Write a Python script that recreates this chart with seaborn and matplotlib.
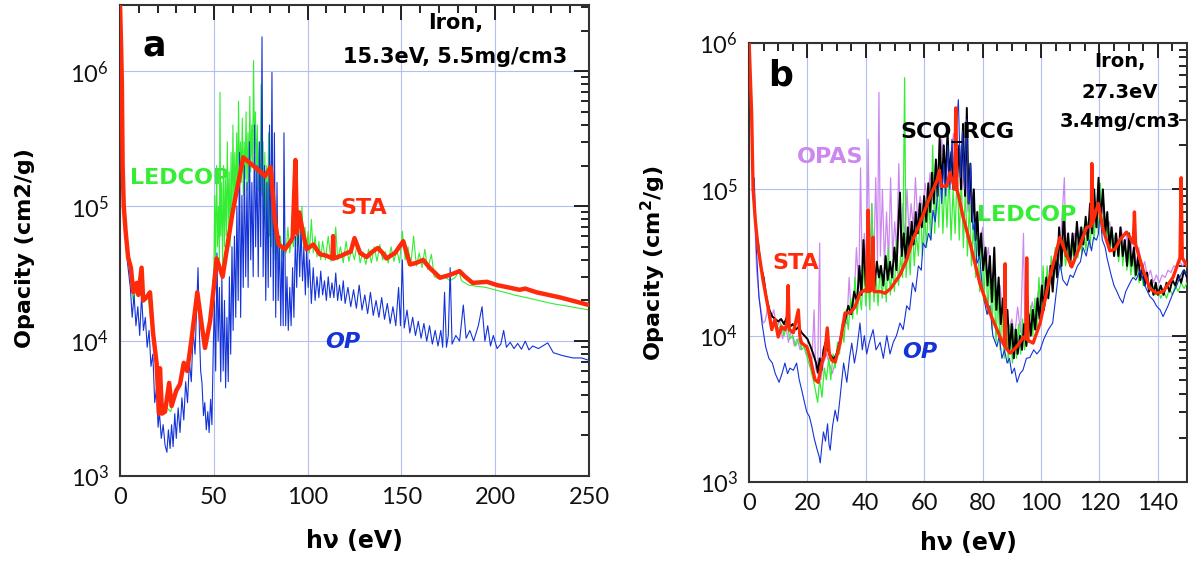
import numpy as np
import pandas as pd
import matplotlib
matplotlib.use("Agg")
import matplotlib.pyplot as plt
import seaborn as sns
from matplotlib.ticker import MultipleLocator, LogLocator, NullFormatter, LogFormatterMathtext, FixedLocator

# ---------------- Panel a : Iron 15.3 eV, 5.5 mg/cm3 ----------------
sta_a = [(0.05,3.0e6),(0.6,1.5e6),(1.0,8e5),(1.4,2.0e5),(2.0,1.0e5),(3.0,6.5e4),(4.3,4.2e4),(5.8,3.5e4),
         (7.1,2.3e4),(8.9,2.7e4),(9.8,2.2e4),(11.5,3.5e4),(12.4,2.0e4),(14.0,2.1e4),(16.0,2.3e4),(17.6,1.15e4),
         (19.5,6.9e3),(20.8,2.9e3),(21.3,6.3e3),(22.4,2.9e3),(24.0,3.0e3),(26.2,4.9e3),(27.5,3.3e3),(30.0,4.3e3),
         (32.0,4.8e3),(34.0,6.9e3),(35.8,6.0e3),(38.0,1.0e4),(41.2,2.3e4),(43.0,1.5e4),(45.3,8.9e3),(48.0,1.4e4),
         (50.0,2.5e4),(51.5,4.1e4),(54.7,3.0e4),(60.0,9.0e4),(65.7,2.3e5),(69.0,2.1e5),(72.9,1.9e5),(77.3,1.67e5),
         (80.3,1.95e5),(82.5,8.0e4),(84.5,5.2e4),(88.0,4.8e4),(90.6,5.4e4),(92.0,5.8e4),(93.5,2.2e5),(94.3,6.3e4),
         (95.5,9.0e4),(97.6,6.3e4),(99.5,4.8e4),(101.3,5.0e4),(103.0,5.2e4),(106.6,4.4e4),(110.0,4.3e4),
         (113.3,4.1e4),(113.6,6.0e4),(114.0,4.1e4),(118.0,4.3e4),(121.0,4.5e4),(123.0,4.6e4),(125.0,5.8e4),
         (128.0,4.5e4),(131.5,4.2e4),(134.5,4.6e4),(137.5,4.9e4),(140.0,4.5e4),(142.0,4.1e4),(146.6,4.5e4),
         (151.0,5.5e4),(154.6,3.7e4),(158.0,3.8e4),(161.6,4.0e4),(165.0,3.5e4),(170.6,2.95e4),(176.0,3.1e4),
         (181.0,3.3e4),(184.0,3.0e4),(188.0,2.7e4),(195.6,2.75e4),(201.0,2.6e4),(207.0,2.5e4),(213.0,2.4e4),
         (216.0,2.45e4),(222.0,2.3e4),(235.0,2.1e4),(250.0,1.85e4)]

ledcop_a = [(3,6e4),(5,3.5e4),(7,2.0e4),(9,2.5e4),(11,2.2e4),(13,2.0e4),(15,2.1e4),(17,1.2e4),(19,7e3),
            (21,3.5e3),(23,2.9e3),(25,3.2e3),(27,3.0e3),(29,3.8e3),(31,4.5e3),(33,5.5e3),(35,6.5e3),(37,8.5e3),
            (39,1.4e4),(41,2.3e4),(42.5,1.8e4),(44,1.1e4),(45.5,9.0e3),(47,1.1e4),(48.5,1.6e4),(49.5,2.8e4),
            (50,3e4),(50.5,1.2e5),(51,4e4),(51.5,2.0e5),(52,5e4),(52.5,1.0e5),(53,4e4),(53.3,7e5),(53.7,6e4),
            (54.2,1.5e5),(54.7,3.5e4),(55.2,2.0e5),(55.7,5e4),(56.2,1.6e5),(56.7,6e4),(57.2,3.0e5),(57.7,7e4),
            (58.2,1.8e5),(58.7,5e4),(59.2,2.5e5),(59.7,8e4),(60.2,4e5),(60.7,9e4),(61.2,2.5e5),(61.7,1.0e5),
            (62.2,3.5e5),(62.7,1.2e5),(63.2,6e5),(63.7,1.4e5),(64.2,3e5),(64.7,1.5e5),(65.2,4.5e5),(65.7,1.2e5),
            (66.2,3e5),(66.7,1.6e5),(67.2,5e5),(67.7,1.3e5),(68.2,3.5e5),(68.7,1.5e5),(69.2,6.5e5),(69.7,1.8e5),
            (70.2,4e5),(70.7,2e5),(71.2,1.2e6),(71.7,2.5e5),(72.2,5e5),(72.7,1.5e5),(73.2,4e5),(73.7,1.3e5),
            (74.2,3e5),(74.7,1.0e5),(75.2,8e5),(75.7,1.2e5),(76.2,3e5),(76.7,8e4),(77.2,2.5e5),(77.7,7e4),
            (78.2,2e5),(78.7,6e4),(79.2,3.5e5),(79.7,6e4),(80.2,1.5e5),(80.7,5e4),(81.2,1.8e5),(81.7,4.5e4),
            (82.2,1.2e5),(82.7,4e4),(83.5,8e4),(84.5,4e4),(85.5,6e4),(86.5,4.2e4),(87.5,5.5e4),(88.5,4.5e4),
            (89.5,7e4),(90.5,4.5e4),(91.5,6e4),(92.5,5e4),(93.5,8e4),(94.5,5e4),(95.5,9e4),(96.2,5.5e4),
            (97,1.0e5),(97.8,5e4),(98.6,7e4),(99.4,4.5e4),(100.2,6.5e4),(101,4.5e4),(102,8e4),(103,4.5e4),
            (104,6e4),(105,4.2e4),(106,5.5e4),(107,4e4),(108,5.5e4),(109.5,4e4),(111,6e4),(112.5,3.9e4),
            (114,5e4),(115,7e4),(116,4e4),(117.5,5e4),(119,3.8e4),(120.5,5.5e4),(122,3.9e4),(123.5,4.8e4),
            (125,4e4),(126.5,5.5e4),(128,3.8e4),(129.5,4.6e4),(131,3.7e4),(132.5,4.8e4),(134,3.8e4),(135.5,5e4),
            (137,3.9e4),(138.5,5.2e4),(140,4e4),(141.5,4.6e4),(143,3.8e4),(144.5,5e4),(146,3.9e4),(147.5,4.8e4),
            (149,3.8e4),(150.5,6.5e4),(152,4e4),(153.5,5e4),(155,3.7e4),(156.5,6e4),(158,3.6e4),(159.5,4.5e4),
            (161,3.5e4),(162.5,4.8e4),(164,3.4e4),(166,4.4e4),(167.5,3e4),(170,2.9e4),(173,3.0e4),(176,2.8e4),
            (179,3.0e4),(180.5,3.4e4),(182,2.8e4),(186,2.6e4),(190,2.55e4),(195,2.5e4),(200,2.4e4),(205,2.3e4),
            (210,2.2e4),(220,2.05e4),(230,1.9e4),(240,1.8e4),(250,1.7e4)]

op_a = [(2,9e4),(4,3.8e4),(5.5,2.5e4),(6.5,1.5e4),(7.5,2.2e4),(8.5,1.3e4),(9.5,1.8e4),(10.5,1.1e4),
        (11.5,2.2e4),(12.5,1.2e4),(13.5,1.5e4),(14.5,9e3),(15.5,1.2e4),(16.5,6.5e3),(17.5,8e3),(18.5,3.5e3),
        (19.5,4.5e3),(20.3,2.3e3),(21,3e3),(22,1.9e3),(23,2.4e3),(24,1.7e3),(25,1.5e3),(25.8,2.2e3),
        (26.7,1.6e3),(27.5,2.4e3),(28.3,1.65e3),(29.2,2.9e3),(30,1.9e3),(31,3.2e3),(32,2.1e3),(33,3.8e3),
        (34,2.6e3),(35,5e3),(36,3.5e3),(37,7e3),(38,5e3),(39,1.2e4),(40,8e3),(41,2.0e4),(41.6,3.5e4),
        (42.3,1.2e4),(43,6e3),(43.7,4.9e3),(44.5,2.8e3),(45.2,3.5e3),(46,2.2e3),(46.8,3.0e3),(47.5,2.1e3),
        (48.3,3.7e3),(49,2.4e3),(49.7,8.6e3),(50.3,2.0e4),(51,6e3),(51.7,4.5e4),(52.3,1.0e4),(53,2.5e4),
        (53.7,5e3),(54.3,3e4),(55,6e3),(55.7,2.0e4),(56.3,4.5e3),(57,1.5e4),(57.7,5e3),(58.3,3e4),(59,8e3),
        (59.7,5e4),(60.3,1.2e4),(61,6e4),(61.7,1.5e4),(62.3,1.0e5),(63,2e4),(63.7,2.5e5),(64.3,1.5e4),
        (65,1.2e5),(65.7,2.5e4),(66.3,2e5),(67,3e4),(67.7,1.5e5),(68.3,2.5e4),(69,3e5),(69.7,4e4),(70.3,1.5e5),
        (71,3e4),(71.7,4e5),(72.3,5e4),(73,2e5),(73.7,3e4),(74.3,3e5),(75,5e4),(75.7,1.8e6),(76.3,3e4),
        (77,2e5),(77.7,2e4),(78.3,1.5e5),(79,2.5e4),(79.7,4e5),(80.3,3e4),(81,9.8e5),(81.7,2e4),(82.3,3.5e5),
        (83,1.5e4),(83.7,1.5e5),(84.3,2e4),(85,6e4),(85.7,1.3e4),(86.3,5e4),(87,1.3e4),(87.4,3.5e5),
        (88.3,1.3e4),(89,3e4),(89.7,1.2e4),(90.5,2.5e4),(91.2,1.3e4),(92,3.5e4),(92.7,1.5e4),(93.5,6e4),
        (94.2,2.5e4),(95,8e4),(95.8,3e4),(96.5,7e4),(97.3,2.8e4),(98,5e4),(98.8,2.2e4),(99.5,5e4),
        (100.3,2.5e4),(101,4e4),(102,1.9e4),(103,3.5e4),(104,2e4),(105,3e4),(106,2.1e4),(107,3.3e4),
        (108,2.2e4),(109,2.8e4),(110,2e4),(111,3e4),(112,2.1e4),(113,2.7e4),(114,2.1e4),(115,3.2e4),
        (116,2.0e4),(117,2.6e4),(118,2.0e4),(119,2.8e4),(120,1.9e4),(121.5,2.5e4),(123,1.8e4),(124.5,2.4e4),
        (126,1.75e4),(127.5,2.6e4),(129,1.7e4),(130.5,2.2e4),(132,1.6e4),(133.5,2.3e4),(135,1.55e4),
        (136.5,2.0e4),(138,1.5e4),(139.5,2.1e4),(141,1.45e4),(142.5,1.9e4),(144,1.35e4),(145.5,1.8e4),
        (147,1.3e4),(148.5,2.5e4),(149.5,1.3e4),(150.5,4e4),(151.5,1.25e4),(153,1.7e4),(154.5,1.15e4),
        (156,1.5e4),(157.5,1.1e4),(159,1.4e4),(160.5,1.05e4),(162,1.35e4),(163.5,1.0e4),(165,1.3e4),
        (166.5,9.5e3),(168,1.2e4),(169.5,9.2e3),(171,1.2e4),(172,9e3),(173,2.3e4),(174,9e3),(175,1.1e4),
        (176,3.5e4),(177,9.5e3),(179,1.1e4),(181,1.0e4),(183,1.85e4),(184.5,1.05e4),(186.5,1.2e4),
        (188.5,1.0e4),(191,1.3e4),(193,1.8e4),(194.5,1.0e4),(196,1.3e4),(197.5,9.2e3),(199,1.1e4),
        (201,8.8e3),(203,9.5e3),(204.5,1.2e4),(206,9.0e3),(208,9.8e3),(210,8.8e3),(212,9.6e3),(214,8.7e3),
        (216,1.0e4),(218,8.6e3),(220,9.2e3),(223,8.8e3),(228,9.7e3),(231,8.2e3),(236,7.8e3),(241.5,7.5e3),
        (246,7.5e3),(250,7.2e3)]

# ---------------- Panel b : Iron 27.3 eV, 3.4 mg/cm3 ----------------
sta_b = [(0.05,1e6),(0.9,3.3e5),(1.4,1.0e5),(2.2,6e4),(3.1,4.0e4),(4.8,2.4e4),(6.5,1.57e4),(7.8,1.1e4),
         (8.9,1.29e4),(10,9.8e3),(11.2,1.15e4),(12.3,1.1e4),(13.0,1.2e4),(13.4,2.2e4),(13.8,1.1e4),
         (15.2,1.05e4),(16.9,1.5e4),(17.4,1.0e4),(18,8.9e3),(19.8,8.4e3),(20.9,7.1e3),(22.6,5.0e3),
         (23.7,4.8e3),(24.9,6.5e3),(26.0,7.5e3),(26.8,1.13e4),(27.5,7.5e3),(28.3,6.8e3),(29.5,6.6e3),
         (31.2,8.9e3),(32.9,1.43e4),(34.6,1.43e4),(36.3,1.57e4),(38,1.95e4),(39.7,2.05e4),(40.3,2.0e4),
         (40.8,7.2e4),(41.3,2.0e4),(42.2,2.1e4),(42.5,4.7e4),(42.8,2.0e4),(44.9,2.0e4),(46.6,1.95e4),
         (48.5,2.1e4),(51.7,2.6e4),(54,3.3e4),(56,4.5e4),(58,5.5e4),(60,7e4),(62,8.9e4),(64.4,1.15e5),
         (65.2,1.35e5),(65.8,1.05e5),(67.7,1.05e5),(68.8,1.3e5),(69.9,1.1e5),(70.5,1.0e5),(70.8,3.6e5),
         (71.2,1.0e5),(71.8,9e4),(73.3,6.5e4),(75.7,4.3e4),(79,2.3e4),(82.5,1.43e4),(86,9.8e3),(87.5,8.5e3),
         (87.7,3.1e4),(87.9,8.3e3),(89.4,7.6e3),(91.7,8.4e3),(94,9.8e3),(94.8,9.5e3),(95.1,3.4e4),(95.5,9.3e3),
         (97.3,8.9e3),(99.7,1.22e4),(103,2.5e4),(106.5,4.7e4),(108.2,3.8e4),(110.5,2.95e4),(112.7,3.8e4),
         (115.6,5.5e4),(117.2,5.6e4),(117.4,1.5e5),(117.7,5.9e4),(119.6,8e4),(121.3,5.3e4),(123.6,3.8e4),
         (125.3,3.9e4),(127.3,4.6e4),(129.3,5.1e4),(131.6,4.3e4),(132.0,7e4),(132.4,4.2e4),(135,2.8e4),
         (137.3,2.1e4),(139.6,1.95e4),(141.8,2.0e4),(145.2,2.5e4),(147.6,3.4e4),(148.0,1.2e5),(148.4,3.4e4),
         (150,3.0e4)]

scorcg_b = [(3,4.5e4),(4,3e4),(5,2.5e4),(6,1.8e4),(7,1.5e4),(8,1.35e4),(9,1.3e4),(10,1.25e4),(11,1.3e4),
            (12,1.2e4),(13,1.35e4),(14,1.15e4),(15,1.2e4),(16,1.1e4),(17,1.15e4),(18,1.05e4),(19,1.0e4),
            (20,9.5e3),(21,8.5e3),(22,7.5e3),(23,6.5e3),(23.6,5.6e3),(24.2,7e3),(24.8,5.8e3),(25.5,8e3),
            (26.2,9e3),(27,8e3),(28,7.3e3),(29,6.9e3),(30,7.5e3),(31,9e3),(32,1.1e4),(33,1.3e4),(34,1.6e4),
            (35,1.4e4),(36,2e4),(37,1.7e4),(37.8,3.0e4),(38.5,1.9e4),(39.2,4.5e4),(40,2.2e4),(40.8,3.5e4),
            (41.5,2.0e4),(42.2,4.0e4),(43,2.2e4),(43.8,3.2e4),(44.5,2.5e4),(45.2,3.0e4),(46,2.2e4),(46.8,3.5e4),
            (47.5,2.4e4),(48.3,3.2e4),(49,2.5e4),(49.8,4.0e4),(50.5,2.8e4),(51.2,6e4),(51.7,9.5e4),(52.3,3.5e4),
            (53,5e4),(53.7,3.2e4),(54.4,5.5e4),(55,3.8e4),(55.7,6e4),(56.4,4.2e4),(57.1,7e4),(57.8,5e4),
            (58.5,8e4),(59.2,5.5e4),(60,9e4),(60.7,6e4),(61.4,1.1e5),(62,7e4),(62.7,1.3e5),(63.3,8e4),(64,1.6e5),
            (64.6,9e4),(65.3,2.3e5),(66,1.0e5),(66.7,2.0e5),(67.3,1.1e5),(68,2.5e5),(68.6,1.2e5),(69.3,1.8e5),
            (70,1.0e5),(70.7,2.2e5),(71.3,1.2e5),(72,2.0e5),(72.6,1.0e5),(73.3,2.8e5),(74,9e4),(74.6,3.6e5),
            (75.2,8e4),(75.8,1.5e5),(76.4,6e4),(77,1.0e5),(77.6,4.5e4),(78.2,7e4),(78.8,3.5e4),(79.5,5e4),
            (80.2,2.8e4),(81,4e4),(81.7,2.2e4),(82.5,3.5e4),(83.2,1.7e4),(84,4e4),(84.7,1.5e4),(85.5,2.5e4),
            (86.2,1.2e4),(87,1.8e4),(87.7,1.0e4),(88.5,1.5e4),(89.2,8e3),(90,1.2e4),(90.7,7e3),(91.4,1.1e4),
            (92,7.5e3),(92.8,1.0e4),(93.5,8e3),(94.2,1.2e4),(95,8.5e3),(95.8,1.4e4),(96.5,1.0e4),(97.2,1.5e4),
            (98,1.1e4),(98.8,1.8e4),(99.5,1.3e4),(100.3,2.2e4),(101,1.5e4),(101.8,2.5e4),(102.5,1.8e4),
            (103.3,3.0e4),(104,2.0e4),(104.8,3.5e4),(105.5,2.5e4),(106.2,5.5e4),(107,3e4),(107.8,7e4),
            (108.5,3.5e4),(109.3,5e4),(110,3e4),(110.8,5e4),(111.5,3.5e4),(112.3,6e4),(113,4e4),(113.8,5.5e4),
            (114.5,4.2e4),(115.3,6.5e4),(116,4.5e4),(116.8,8e4),(117.5,5e4),(118.2,1.0e5),(119,5.5e4),
            (119.7,1.2e5),(120.4,6e4),(121.2,1.0e5),(122,5e4),(122.7,7e4),(123.4,4e4),(124.2,5.5e4),(125,3.5e4),
            (125.7,5e4),(126.5,3.5e4),(127.2,5.5e4),(128,3.5e4),(128.7,4.5e4),(129.5,3.0e4),(130.2,5e4),
            (131,3e4),(131.8,4e4),(132.5,2.6e4),(133.3,3.5e4),(134,2.4e4),(134.8,3e4),(135.5,2.2e4),
            (136.3,2.7e4),(137,2.0e4),(137.8,2.4e4),(138.5,1.9e4),(139.3,2.3e4),(140,1.9e4),(141,2.2e4),
            (142,1.9e4),(143,2.3e4),(144,2.0e4),(145,2.4e4),(146,2.2e4),(147,2.6e4),(148,2.3e4),(149,2.8e4),
            (150,2.5e4)]

opas_b = [(2,6e4),(2.6,2.8e4),(3.5,1.8e4),(4.8,1.22e4),(5.5,1.25e4),(6.5,1.6e4),(7.5,1.3e4),(8.5,1.5e4),
          (9.5,1.1e4),(10.5,1.3e4),(11.5,9.5e3),(12.5,1.2e4),(13.5,9e3),(14.5,1.1e4),(15.5,8.5e3),(16.5,9.5e3),
          (17.5,8e3),(18.5,9e3),(19.5,7.5e3),(20.5,7e3),(21.5,6.5e3),(22.3,1.5e4),(22.8,6e3),(23.5,5.5e3),
          (24.2,4.3e4),(24.6,5e3),(25.5,6.5e3),(26.5,7.5e3),(27.5,6.5e3),(28.5,5.5e3),(29.5,6.5e3),(30.5,8e3),
          (31.5,1.0e4),(32.5,1.3e4),(33.5,1.2e4),(34.3,2.5e4),(35,1.4e4),(36,1.8e4),(36.8,4e4),(37.6,2e4),
          (38.2,1.4e5),(38.8,2.5e4),(39.5,5e4),(40.2,2.8e4),(40.8,2.2e5),(41.4,3e4),(42,8e4),(42.7,3e4),
          (43.4,1.2e5),(44,3.2e4),(44.5,4.6e5),(45,3.5e4),(45.7,1e5),(46.4,3e4),(47.1,7e4),(47.8,3.2e4),
          (48.5,1.2e5),(49.2,3.5e4),(49.9,6e4),(50.6,3.8e4),(51.3,1.5e5),(52,4e4),(52.7,8e4),(53.4,4.5e4),
          (54.1,1e5),(54.8,5e4),(55.5,8e4),(56.3,5.5e4),(57,1.2e5),(57.8,6e4),(58.6,9e4),(59.5,7e4),
          (60.3,1.1e5),(61.2,8e4),(62,1.3e5),(63,9e4),(64,1.6e5),(65,1e5),(66,2.2e5),(67,1.2e5),(68,2.0e5),
          (69,1.3e5),(70,2.4e5),(71,1.2e5),(72,2.0e5),(73,1.0e5),(74,1.6e5),(75,7e4),(76,1.0e5),(77,5e4),
          (78,7e4),(79,4e4),(80,5.5e4),(81,3e4),(82,4e4),(83,2.2e4),(84,3e4),(85,1.6e4),(86,2.2e4),(87,1.3e4),
          (88,1.6e4),(89,1.1e4),(90,1.3e4),(91,1.0e4),(92,1.57e4),(93,1.05e4),(94,5e4),(94.5,1.1e4),(96,1.3e4),
          (97,1.7e4),(98,1.3e4),(99,2e4),(100,1.5e4),(101,2.4e4),(102,1.8e4),(103,3e4),(104,2.2e4),(105,4e4),
          (106,3e4),(107,5.5e4),(108,1.2e5),(108.6,3.5e4),(109.5,4.5e4),(110.5,3.5e4),(111.5,5e4),(112.5,4e4),
          (113.5,5.5e4),(114.5,4.5e4),(115.5,6e4),(116.5,5e4),(117.5,8e4),(118.5,5.5e4),(119.5,1.1e5),
          (120.5,6e4),(121.5,8e4),(122.5,5e4),(123.5,6e4),(124.5,4e4),(125.5,5e4),(126.5,4e4),(127.5,5.5e4),
          (128.5,3.8e4),(129.5,5e4),(130.5,3.5e4),(131.5,5e4),(132.5,3e4),(133.5,4e4),(134.5,2.8e4),
          (135.5,3.2e4),(136.5,2.5e4),(137.5,2.8e4),(138.5,2.3e4),(139.5,2.6e4),(140.5,2.3e4),(141.5,2.6e4),
          (142.5,2.5e4),(143.5,2.8e4),(144.5,2.7e4),(145.5,3e4),(146.5,2.9e4),(147.5,3.2e4),(148.5,3.0e4),
          (150,3.3e4)]

ledcop_b = [(9,1.3e4),(10,1.1e4),(11,1.2e4),(12,1.0e4),(13,1.2e4),(14,9.5e3),(15,1.0e4),(16,8.5e3),(17,9.5e3),
            (18,8e3),(19,8.5e3),(20,7e3),(21,6e3),(22,5e3),(22.8,4.2e3),(23.5,3.5e3),(24.2,5e3),(25,3.8e3),
            (25.8,6e3),(26.5,5e3),(27.3,7e3),(28,5e3),(28.8,7.5e3),(29.5,6e3),(30.3,9e3),(31,7.5e3),(31.8,1.2e4),
            (32.5,9e3),(33.3,1.5e4),(34,1.1e4),(34.8,1.8e4),(35.5,1.3e4),(36.3,2.5e4),(37,1.4e4),(37.8,2e4),
            (38.5,1.5e4),(39.3,3e4),(40,1.6e4),(40.7,2.5e4),(41.4,1.5e4),(42.1,8e4),(42.8,1.7e4),(43.5,2.5e4),
            (44.2,1.6e4),(44.9,3e4),(45.6,1.8e4),(46.3,2.8e4),(47,1.7e4),(47.7,4e4),(48.4,1.9e4),(49.1,3e4),
            (49.8,2e4),(50.5,4.5e4),(51.2,2.2e4),(51.9,3.5e4),(52.6,2.5e4),(53.3,5.8e5),(53.8,2.5e4),(54.5,4.5e4),
            (55.2,2.6e4),(55.9,6e4),(56.6,3e4),(57.3,5e4),(58,3.5e4),(58.7,8e4),(59.4,3.5e4),(60.1,7e4),
            (60.8,4e4),(61.5,9e4),(62.2,4.5e4),(62.9,2e5),(63.6,5e4),(64.3,1.2e5),(65,5.5e4),(65.7,1.5e5),
            (66.4,5e4),(67.1,1.2e5),(67.8,5.5e4),(68.5,1.3e5),(69.2,4.5e4),(69.9,1.0e5),(70.6,5e4),(71.3,1.4e5),
            (72,4.5e4),(72.7,1.2e5),(73.4,4e4),(74.1,1.0e5),(74.8,3.5e4),(75.5,8e4),(76.2,3e4),(76.9,6e4),
            (77.6,2.5e4),(78.3,5e4),(79,2e4),(79.7,5e4),(80.4,1.7e4),(81.1,3.5e4),(81.8,1.4e4),(82.5,3e4),
            (83.2,1.1e4),(83.9,2.5e4),(84.6,9e3),(85.3,2e4),(86,8e3),(86.7,1.6e4),(87.4,7e3),(88.1,1.4e4),
            (88.8,6.5e3),(89.5,1.2e4),(90.2,6.5e3),(90.9,1.1e4),(91.6,7e3),(92.3,1.2e4),(93,7.5e3),(93.7,1.3e4),
            (94.4,8e3),(95.1,1.4e4),(95.8,9e3),(96.5,1.6e4),(97.2,1.0e4),(97.9,1.8e4),(98.6,1.1e4),(99.3,2.5e4),
            (100,1.3e4),(100.7,3e4),(101.4,1.6e4),(102.1,3e4),(102.8,1.9e4),(103.5,3.5e4),(104.2,2.2e4),
            (104.9,4e4),(105.6,2.5e4),(106.3,5e4),(107,2.8e4),(107.7,4.5e4),(108.4,3e4),(109.1,4e4),(109.8,3.2e4),
            (110.5,4.5e4),(111.2,3.3e4),(111.9,4.5e4),(112.6,3.4e4),(113.3,5e4),(114,3.6e4),(114.7,5.5e4),
            (115.4,3.8e4),(116.1,6e4),(116.8,4e4),(117.5,7e4),(118.2,4.5e4),(118.9,8e4),(119.6,5e4),(120.3,1.1e5),
            (121,5e4),(121.7,7e4),(122.4,4.5e4),(123.1,6e4),(123.8,4e4),(124.5,5e4),(125.2,3.5e4),(125.9,4.5e4),
            (126.6,3.2e4),(127.3,5e4),(128,3.0e4),(128.7,4.5e4),(129.4,2.8e4),(130.1,3.8e4),(130.8,2.6e4),
            (131.5,3.5e4),(132.2,2.5e4),(132.9,3e4),(133.6,2.3e4),(134.3,2.8e4),(135,2.2e4),(136,2.5e4),
            (137,2.0e4),(138,2.3e4),(139,1.9e4),(140,2.1e4),(141,1.8e4),(142,2.0e4),(143,1.8e4),(144,2.1e4),
            (145,1.9e4),(146,2.2e4),(147,2e4),(148,2.3e4),(149,2.1e4),(150,2.3e4)]

op_b = [(1.8,1.2e5),(2.5,4e4),(3.4,1.85e4),(4.5,1.2e4),(5.7,8.4e3),(6.8,7e3),(8,6.5e3),(9,5.5e3),(10.3,4.8e3),
        (11.3,5.5e3),(12.3,6.5e3),(13.2,5.5e3),(14,6e3),(15.2,5.8e3),(16.3,6.5e3),(17.2,5e3),(18,4.3e3),
        (19,3.5e3),(19.8,3.0e3),(20.7,2.8e3),(21.5,2.4e3),(22.3,2.0e3),(23.2,1.7e3),(24,1.5e3),(24.4,1.35e3),
        (25,1.8e3),(25.5,2.2e3),(26.2,1.9e3),(26.9,2.5e3),(27.4,1.8e3),(27.8,1.65e3),(28.6,2.4e3),(29.5,3.1e3),
        (30.3,2.6e3),(31.2,3.8e3),(32.4,6.5e3),(33.5,4.8e3),(34.4,7e3),(35.2,8.9e3),(36.1,6.5e3),(36.9,8e3),
        (38,1.22e4),(38.8,8e3),(39.5,1.0e4),(40.3,7.5e3),(41.2,9e3),(42.5,1.1e4),(43.5,8e3),(44.9,9e3),
        (46,7e3),(47.2,1.0e4),(48.3,7.5e3),(49.4,9e3),(50.5,1.0e4),(51.7,1.22e4),(52.8,1.1e4),(54,1.6e4),
        (55,1.5e4),(56,2.3e4),(57,2.0e4),(58,3.0e4),(59,2.8e4),(59.6,4.3e4),(60.5,4e4),(61.5,5e4),(62.3,4.5e4),
        (63,7.2e4),(63.8,6e4),(64.5,9e4),(65.4,1.35e5),(66,8e4),(66.7,1.5e5),(67.4,9e4),(68.1,2e5),(68.8,1.0e5),
        (69.5,2.2e5),(70.2,1.1e5),(70.9,2.5e5),(71.7,4.1e5),(72.4,1.2e5),(73.1,2.5e5),(73.8,1e5),(74.5,3.0e5),
        (75.2,8e4),(75.9,1.5e5),(76.7,5.3e4),(77.4,6e4),(78,3.1e4),(79,3.5e4),(80,2e4),(81.5,1.4e4),
        (82.5,1.6e4),(83.5,1.0e4),(84.9,8.4e3),(85.7,1.0e4),(86.6,7e3),(87.5,8e3),(88.4,6.5e3),(89.2,7e3),
        (90,5.5e3),(90.9,6e3),(91.8,4.8e3),(92.8,5.5e3),(93.8,5.8e3),(95,7e3),(96.2,7.1e3),(97.5,8e3),
        (98.6,7.5e3),(99.7,8e3),(101,9.5e3),(102.5,1.1e4),(104,1.22e4),(105,1.8e4),(105.8,2.5e4),(106.5,3.1e4),
        (107.5,2.4e4),(108.9,2.2e4),(110,2.6e4),(111,2.5e4),(112.5,3.0e4),(113.5,3.2e4),(114.4,4.0e4),
        (115.5,3.5e4),(116.5,4.5e4),(117.3,3.8e4),(118,4.7e4),(119,4.5e4),(119.7,5e4),(120.2,6.9e4),(121,4.5e4),
        (122,4e4),(122.6,3.4e4),(124,2.6e4),(125,2.2e4),(126,2e4),(127,1.8e4),(128,1.67e4),(129,2.0e4),
        (130.5,2.3e4),(131.5,2.5e4),(132.5,2.4e4),(134,2.8e4),(135,2.4e4),(136,2.1e4),(137.3,1.85e4),
        (138.5,1.75e4),(139.5,1.6e4),(140.8,1.5e4),(141.8,1.35e4),(142.5,1.45e4),(143.5,1.6e4),(145.2,1.95e4),
        (146.5,2.2e4),(147.5,2.5e4),(148.7,2.8e4),(150,2.6e4)]

x_ticks_a = [0, 50, 100, 150, 200, 250]
x_ticks_b = [0, 20, 40, 60, 80, 100, 120, 140]

RED = "#ff2a0a"
GREEN = "#33ee33"
BLUE = "#1433d8"
PURPLE = "#cc88ee"
BLACK = "#000000"
GRID = "#b4bef0"

sns.set_style("white")
plt.rcParams["font.family"] = ["Lato", "DejaVu Sans"]
plt.rcParams["mathtext.fontset"] = "custom"
plt.rcParams["mathtext.rm"] = "Lato"
plt.rcParams["mathtext.bf"] = "DejaVu Sans:bold"
plt.rcParams["text.color"] = "black"
plt.rcParams["axes.labelcolor"] = "black"

fig = plt.figure(figsize=(11.88, 5.62), dpi=100)
ax_a = fig.add_axes([120/1188, 1-476/562, 469/1188, 471/562])
ax_b = fig.add_axes([749/1188, 1-482/562, 438/1188, 439/562])


def draw(ax, pairs, color, lw, z, alpha=1.0):
    df = pd.DataFrame(pairs, columns=["E", "kappa"])
    sns.lineplot(data=df, x="E", y="kappa", ax=ax, color=color, linewidth=lw,
                 estimator=None, sort=False, alpha=alpha, zorder=z, legend=False)


draw(ax_a, ledcop_a, GREEN, 0.8, 2)
draw(ax_a, op_a, BLUE, 0.8, 3)
draw(ax_a, sta_a, RED, 3.2, 5)

draw(ax_b, opas_b, PURPLE, 0.9, 2)
draw(ax_b, ledcop_b, GREEN, 0.9, 3)
draw(ax_b, scorcg_b, BLACK, 1.4, 4)
draw(ax_b, op_b, BLUE, 0.8, 5)
draw(ax_b, sta_b, RED, 2.4, 6)


def style(ax, xmax, ymax, minor, ticks):
    ax.set_yscale("log")
    ax.set_xlim(0, xmax)
    ax.set_ylim(1e3, ymax)
    ax.xaxis.set_major_locator(FixedLocator(ticks))
    ax.xaxis.set_minor_locator(MultipleLocator(minor))
    ax.yaxis.set_major_locator(LogLocator(base=10, numticks=10))
    ax.yaxis.set_minor_locator(LogLocator(base=10, subs=np.arange(2, 10), numticks=20))
    ax.yaxis.set_major_formatter(LogFormatterMathtext())
    ax.yaxis.set_minor_formatter(NullFormatter())
    ax.set_axisbelow(True)
    ax.grid(True, which="major", color=GRID, linewidth=0.8)
    ax.tick_params(which="both", direction="in", top=True, right=True, color="#111111",
                   labelcolor="#111111", width=1.3)
    ax.tick_params(which="major", length=11, labelsize=17, pad=8)
    ax.tick_params(which="minor", length=6)
    for s in ax.spines.values():
        s.set_color("#333333")
        s.set_linewidth(1.5)
    ax.set_xlabel("hν (eV)", fontsize=17, fontweight="bold", family="DejaVu Sans", color="black")


style(ax_a, 250, 3.1e6, 10, x_ticks_a)
style(ax_b, 150, 1e6, 5, x_ticks_b)

ax_a.set_ylabel("Opacity (cm2/g)", fontsize=16, fontweight="bold", family="DejaVu Sans", color="black")
ax_b.set_ylabel(r"Opacity (cm$^\mathbf{2}$/g)", fontsize=16, fontweight="bold", family="DejaVu Sans",
                color="black")
ax_a.yaxis.set_label_coords(-0.181, 0.484)
ax_b.yaxis.set_label_coords(-0.185, 0.50)
ax_a.xaxis.set_label_coords(0.5, -0.112)
ax_b.xaxis.set_label_coords(0.5, -0.112)

bold = dict(family="DejaVu Sans", fontweight="bold", va="center")
# panel a annotations
ax_a.text(0.047, 0.915, "a", transform=ax_a.transAxes, fontsize=25, ha="left", color="black", **bold)
ax_a.text(0.715, 0.962, "Iron,", transform=ax_a.transAxes, fontsize=15, ha="center", color="black", **bold)
ax_a.text(0.715, 0.89, "15.3eV, 5.5mg/cm3", transform=ax_a.transAxes, fontsize=15, ha="center",
          color="black", **bold)
ax_a.text(0.021, 0.633, "LEDCOP", transform=ax_a.transAxes, fontsize=16, color=GREEN, ha="left", **bold)
ax_a.text(0.469, 0.569, "STA", transform=ax_a.transAxes, fontsize=16, color=RED, ha="left", **bold)
ax_a.text(0.437, 0.285, "OP", transform=ax_a.transAxes, fontsize=16, style="italic", color=BLUE,
          ha="left", **bold)

# panel b annotations
ax_b.text(0.043, 0.927, "b", transform=ax_b.transAxes, fontsize=25, ha="left", color="black", **bold)
ax_b.text(0.847, 0.957, "Iron,", transform=ax_b.transAxes, fontsize=14, ha="center", color="black", **bold)
ax_b.text(0.847, 0.888, "27.3eV", transform=ax_b.transAxes, fontsize=14, ha="center", color="black", **bold)
ax_b.text(0.847, 0.822, "3.4mg/cm3", transform=ax_b.transAxes, fontsize=14, ha="center", color="black",
          **bold)
ax_b.text(0.475, 0.795, "SCO_RCG", transform=ax_b.transAxes, fontsize=16, color=BLACK, ha="center",
          zorder=10, **bold)
ax_b.text(0.11, 0.74, "OPAS", transform=ax_b.transAxes, fontsize=16, color=PURPLE, ha="left", **bold)
ax_b.text(0.52, 0.608, "LEDCOP", transform=ax_b.transAxes, fontsize=16, color=GREEN, ha="left",
          zorder=10, **bold)
ax_b.text(0.053, 0.499, "STA", transform=ax_b.transAxes, fontsize=16, color=RED, ha="left", **bold)
ax_b.text(0.35, 0.296, "OP", transform=ax_b.transAxes, fontsize=16, style="italic", color=BLUE,
          ha="left", **bold)

fig.savefig("out.png", dpi=100)
